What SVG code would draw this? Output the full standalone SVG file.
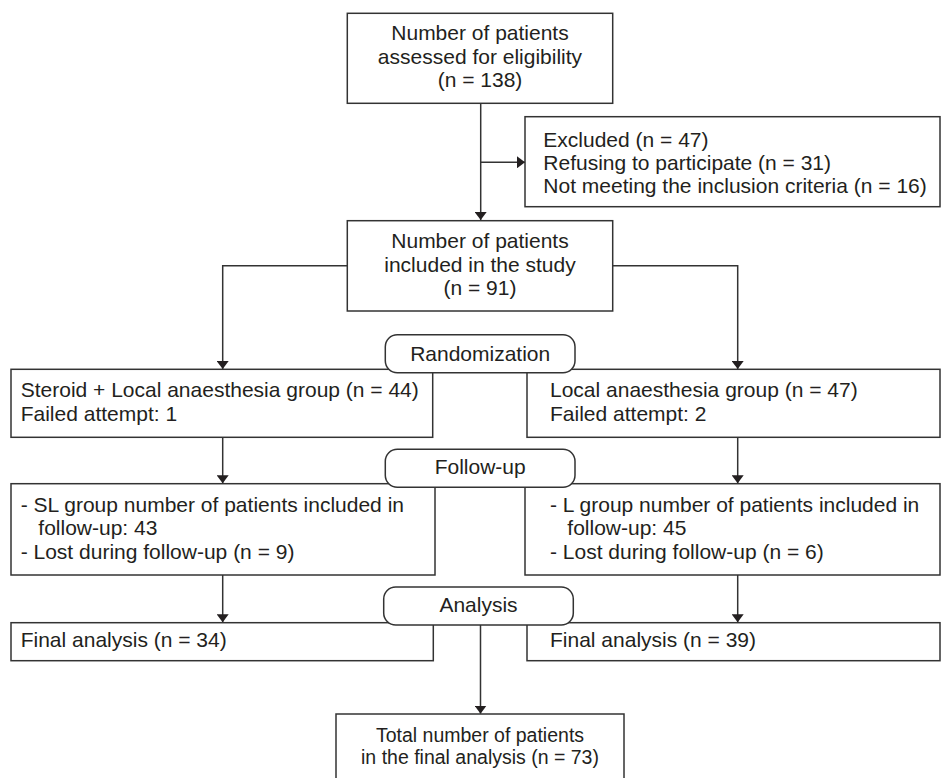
<svg xmlns="http://www.w3.org/2000/svg" width="942" height="778" viewBox="0 0 942 778">
<style>
  .box { fill: #ffffff; stroke: #333333; stroke-width: 1.5; }
  .conn { fill: none; stroke: #333333; stroke-width: 1.5; }
  text { font-family: "Liberation Sans", Arial, sans-serif; font-size: 21px; fill: #231f20; }
  .c { text-anchor: middle; }
  .sm { font-size: 19.5px; }
</style>
<defs>
  <marker id="arr" viewBox="0 0 8 12" refX="8" refY="6" markerWidth="8" markerHeight="12" markerUnits="userSpaceOnUse" orient="auto">
    <path d="M0,0 L8,6 L0,12 z" fill="#231f20"/>
  </marker>
</defs>
<rect width="942" height="778" fill="#ffffff"/>

<g id="connectors">
  <path class="conn" d="M480.7,103.3 V220" marker-end="url(#arr)"/>
  <path class="conn" d="M480.7,162.3 H525" marker-end="url(#arr)"/>
  <path class="conn" d="M347.3,265.7 H222.7 V369" marker-end="url(#arr)"/>
  <path class="conn" d="M612.7,265.7 H737.7 V369" marker-end="url(#arr)"/>
  <path class="conn" d="M222.7,437.3 V483.3" marker-end="url(#arr)"/>
  <path class="conn" d="M737.7,437.3 V483.3" marker-end="url(#arr)"/>
  <path class="conn" d="M222.7,575 V622.3" marker-end="url(#arr)"/>
  <path class="conn" d="M737.7,575 V622.3" marker-end="url(#arr)"/>
  <path class="conn" d="M480.5,625 V713.7" marker-end="url(#arr)"/>
</g>

<g id="assessed">
  <rect class="box" x="347.3" y="13.3" width="265.4" height="90"/>
  <text class="c" x="480" y="40">Number of patients</text>
  <text class="c" x="480" y="63.5">assessed for eligibility</text>
  <text class="c" x="480" y="87.3">(n = 138)</text>
</g>

<g id="excluded">
  <rect class="box" x="525" y="116.7" width="415" height="90"/>
  <text x="543.3" y="146.7">Excluded (n = 47)</text>
  <text x="543.3" y="170">Refusing to participate (n = 31)</text>
  <text x="543.3" y="193.3">Not meeting the inclusion criteria (n = 16)</text>
</g>

<g id="included">
  <rect class="box" x="347.3" y="220.7" width="265.4" height="90.3"/>
  <text class="c" x="480" y="248.3">Number of patients</text>
  <text class="c" x="480" y="271.7">included in the study</text>
  <text class="c" x="480" y="295">(n = 91)</text>
</g>

<g id="steroid-group">
  <rect class="box" x="11" y="369.3" width="421.7" height="68"/>
  <text x="20.7" y="396.7">Steroid + Local anaesthesia group (n = 44)</text>
  <text x="20.7" y="420.7">Failed attempt: 1</text>
</g>

<g id="local-group">
  <rect class="box" x="527" y="369.3" width="413" height="68"/>
  <text x="550" y="396.7">Local anaesthesia group (n = 47)</text>
  <text x="550" y="420.7">Failed attempt: 2</text>
</g>

<g id="randomization">
  <rect class="box" x="385.3" y="334.7" width="189.7" height="38" rx="12" ry="12"/>
  <text class="c" x="480.2" y="360.7">Randomization</text>
</g>

<g id="sl-followup">
  <rect class="box" x="11" y="483.7" width="424" height="91.3"/>
  <text x="20.7" y="511.7">- SL group number of patients included in</text>
  <text x="38.3" y="535">follow-up: 43</text>
  <text x="20.7" y="559">- Lost during follow-up (n = 9)</text>
</g>

<g id="l-followup">
  <rect class="box" x="525" y="483.7" width="415" height="91.3"/>
  <text x="550" y="511.7">- L group number of patients included in</text>
  <text x="567.3" y="535">follow-up: 45</text>
  <text x="550" y="559">- Lost during follow-up (n = 6)</text>
</g>

<g id="follow-up">
  <rect class="box" x="385.3" y="449.3" width="189.7" height="38" rx="12" ry="12"/>
  <text class="c" x="480.2" y="474.3">Follow-up</text>
</g>

<g id="sl-final">
  <rect class="box" x="11" y="622.7" width="422.3" height="38"/>
  <text x="20.7" y="646.7">Final analysis (n = 34)</text>
</g>

<g id="l-final">
  <rect class="box" x="527" y="622.7" width="413" height="38"/>
  <text x="550" y="646.7">Final analysis (n = 39)</text>
</g>

<g id="analysis">
  <rect class="box" x="383.7" y="587" width="189.6" height="38" rx="12" ry="12"/>
  <text class="c" x="478.5" y="611.7">Analysis</text>
</g>

<g id="total">
  <rect class="box" x="336" y="714" width="288" height="80"/>
  <text class="c sm" x="480" y="741.5">Total number of patients</text>
  <text class="c sm" x="480" y="764">in the final analysis (n = 73)</text>
</g>
</svg>
